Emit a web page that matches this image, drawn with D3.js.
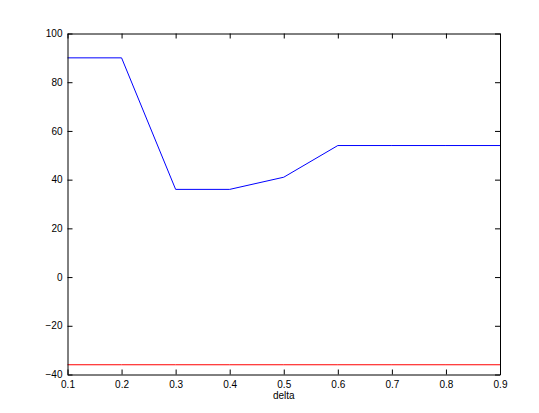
<!DOCTYPE html>
<html>
<head>
<meta charset="utf-8">
<script src="https://cdn.jsdelivr.net/npm/d3@7"></script>
<style>
  body { margin: 0; background: #fff; }
  text { font-family: "Liberation Sans", Arial, sans-serif; font-size: 10px; fill: #000; }
</style>
</head>
<body>
<svg id="chart" width="539" height="413"></svg>
<script>
// MARK: Data.

const deltas     = [0.1, 0.2, 0.3, 0.4, 0.5, 0.6, 0.7, 0.8, 0.9]
const blueValues = [90, 90, 36, 36, 41, 54, 54, 54, 54]
const redLevel   = -36
const xTicks     = [0.1, 0.2, 0.3, 0.4, 0.5, 0.6, 0.7, 0.8, 0.9]
const yTicks     = [-40, -20, 0, 20, 40, 60, 80, 100]

// MARK: Layout.

const WIDTH  = 539
const HEIGHT = 413
const margin = { top: 33.5, right: 39, bottom: 38.5, left: 67.5 }
const TICK   = 5

const svg = d3.select('#chart')

const x = d3.scaleLinear()
  .domain([0.1, 0.9])
  .range([margin.left, WIDTH - margin.right])
const y = d3.scaleLinear()
  .domain([-40, 100])
  .range([HEIGHT - margin.bottom, margin.top])

const fmt = (v) => String(v).replace('-', '\u2212')

// Lines.
const line = d3.line()
  .x((d, i) => x(deltas[i]))
  .y((d) => y(d))

svg.append('path')
  .datum(deltas.map(() => redLevel))
  .attr('d', line)
  .attr('fill', 'none')
  .attr('stroke', '#ff0000')
  .attr('stroke-width', 1)

svg.append('path')
  .datum(blueValues)
  .attr('d', line)
  .attr('fill', 'none')
  .attr('stroke', '#0000ff')
  .attr('stroke-width', 1)

// Axes, MATLAB-style: inward ticks on all four sides.
svg.append('g')
  .attr('transform', `translate(0,${y(-40)})`)
  .call(d3.axisBottom(x).tickValues(xTicks).tickSizeInner(-TICK).tickSizeOuter(0)
    .tickPadding(6).tickFormat((d) => String(d)))
svg.append('g')
  .attr('transform', `translate(0,${y(100)})`)
  .call(d3.axisTop(x).tickValues(xTicks).tickSizeInner(-TICK).tickSizeOuter(0).tickFormat(''))
svg.append('g')
  .attr('transform', `translate(${x(0.1)},0)`)
  .call(d3.axisLeft(y).tickValues(yTicks).tickSizeInner(-TICK).tickSizeOuter(0)
    .tickPadding(5).tickFormat(fmt))
svg.append('g')
  .attr('transform', `translate(${x(0.9)},0)`)
  .call(d3.axisRight(y).tickValues(yTicks).tickSizeInner(-TICK).tickSizeOuter(0).tickFormat(''))

svg.selectAll('.domain').attr('stroke', '#000').attr('stroke-width', 1)
svg.selectAll('.tick line').attr('stroke', '#000')
svg.selectAll('.tick text').attr('font-size', 10).attr('font-family', '"Liberation Sans", Arial, sans-serif')

svg.append('text')
  .attr('x', (x(0.1) + x(0.9)) / 2)
  .attr('y', 399)
  .attr('text-anchor', 'middle')
  .text('delta')
</script>
</body>
</html>
